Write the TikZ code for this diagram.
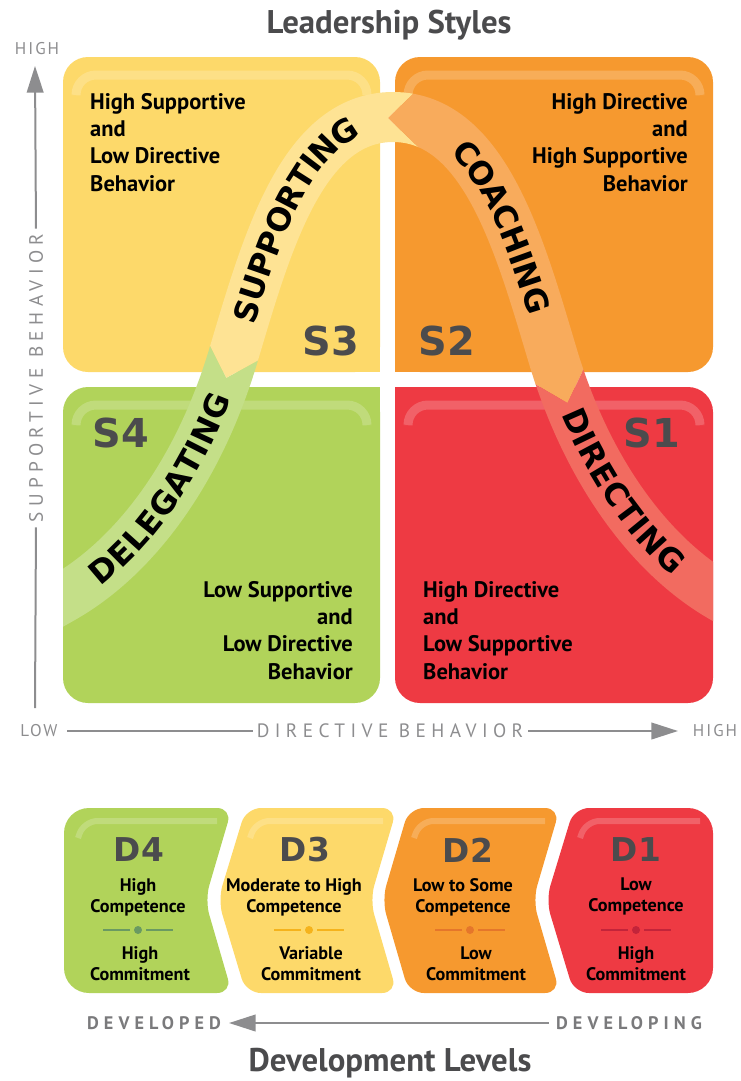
\documentclass[tikz,border=0pt]{standalone}
\usepackage{fontspec}
\setmainfont{PT Sans}
\newfontfamily\heavyfont{DejaVu Sans}
\newfontfamily\spacedfont[LetterSpace=28]{PT Sans}
\newfontfamily\endfont[LetterSpace=12]{PT Sans}
\usetikzlibrary{arrows.meta,decorations.text}

\definecolor{qyellow}{HTML}{FDD96A}
\definecolor{qorange}{HTML}{F6992F}
\definecolor{qgreen}{HTML}{B1D35A}
\definecolor{qred}{HTML}{EE3A43}
\definecolor{byellow}{HTML}{FEE394}
\definecolor{borange}{HTML}{F8AB5C}
\definecolor{bgreen}{HTML}{C4DF88}
\definecolor{bred}{HTML}{F26B60}
\definecolor{dotgreen}{HTML}{6A9A62}
\definecolor{dotyellow}{HTML}{F5B31C}
\definecolor{dotorange}{HTML}{E5762B}
\definecolor{dotred}{HTML}{C3243A}
\definecolor{axisgray}{HTML}{8D8D8F}
\definecolor{devgray}{HTML}{7A7A7C}
\definecolor{inkgray}{HTML}{4B4B4D}

% centre line of the style curve
\newcommand\bandpath{(19.5,622.7) -- (63,598) .. controls (130,560) and (195,480) .. (232,360)
  .. controls (265,250) and (300,117) .. (393,117)
  .. controls (486,117) and (521,250) .. (554,360)
  .. controls (591,480) and (656,560) .. (723,598) -- (766.5,622.7)}

\tikzset{
  quad/.style={rounded corners=0.75cm},
  gloss/.style={draw=white, draw opacity=.2, line width=0.27cm, rounded corners=0.6cm},
  heading/.style={font=\bfseries\fontsize{28}{28}\selectfont, text=inkgray, inner sep=0pt},
  stylelbl/.style={font=\heavyfont\bfseries\fontsize{34}{34}\selectfont, text=inkgray, inner sep=0pt},
  levellbl/.style={font=\heavyfont\bfseries\fontsize{28}{28}\selectfont, text=inkgray, inner sep=0pt},
  behav/.style={font=\bfseries\fontsize{19.2}{23.3}\selectfont, inner sep=0pt},
  levtxt/.style={font=\bfseries\fontsize{15.5}{17.9}\selectfont, align=center, inner sep=0pt},
  axistxt/.style={font=\spacedfont\fontsize{16.5}{16.5}\selectfont, text=axisgray, inner sep=0pt},
  endtxt/.style={font=\endfont\fontsize{14.5}{14.5}\selectfont, text=axisgray, inner sep=0pt},
  devtxt/.style={font=\spacedfont\bfseries\fontsize{15.5}{15.5}\selectfont, text=devgray, inner sep=0pt},
  axisline/.style={draw=axisgray, line width=0.06cm},
  axisarrow/.style={axisline, -{Triangle[length=0.8cm, width=0.5cm]}},
  band/.style={line width=1.5cm},
  bandtext/.style={decorate, decoration={text along path, text align=center, raise=-9.9pt,
    text={|\heavyfont\bfseries\fontsize{27}{27}\selectfont|#1}}},
}

\begin{document}
\begin{tikzpicture}[x=0.03cm, y=-0.03cm]
\useasboundingbox (0,0) rectangle (741,1081);

% the four quadrants, square at the centre
\fill[qyellow, quad] (63,57) rectangle (380,372);
\fill[qyellow] (340,332) rectangle (380,372);
\fill[qorange, quad] (395,57) rectangle (713,372);
\fill[qorange] (395,332) rectangle (435,372);
\fill[qgreen, quad] (63,387) rectangle (380,703);
\fill[qgreen] (340,387) rectangle (380,427);
\fill[qred, quad] (395,387) rectangle (713,703);
\fill[qred] (395,387) rectangle (435,427);
\foreach \xa/\xb/\ya in {63/380/57, 395/713/57, 63/380/387, 395/713/387}
  \draw[gloss] (\xa+13,\ya+38) -- (\xa+13,\ya+18) -- (\xb-13,\ya+18) -- (\xb-13,\ya+38);

% curve, cut into four arrows
\begin{scope}
\clip (63,0) rectangle (713,741);
\begin{scope}
\clip (0,313.4) -- (193.9,313.4) -- (226.3,377.8) -- (289.5,343) -- (400,343) -- (400,741) -- (0,741) -- cycle;
\draw[band, bgreen] \bandpath;
\end{scope}
\begin{scope}
\clip (0,0) -- (442,0) -- (442,66) -- (388,118) -- (442,170) -- (289.5,343) -- (226.3,377.8) -- (193.9,313.4) -- (0,313.4) -- cycle;
\draw[band, byellow] \bandpath;
\end{scope}
\begin{scope}
\clip (442,0) -- (741,0) -- (741,336.2) -- (599.3,336.2) -- (567.5,403) -- (503.7,365.8) -- (442,170) -- (388,118) -- (442,66) -- cycle;
\draw[band, borange] \bandpath;
\end{scope}
\begin{scope}
\clip (741,336.2) -- (599.3,336.2) -- (567.5,403) -- (503.7,365.8) -- (400,365.8) -- (400,741) -- (741,741) -- cycle;
\draw[band, bred] \bandpath;
\end{scope}
\end{scope}
\path[bandtext=DELEGATING] (63,598) .. controls (130,560) and (195,480) .. (232,360);
\path[bandtext=SUPPORTING] (232,360) .. controls (265,250) and (300,117) .. (393,117);
\path[bandtext=COACHING, decoration={text align={left, left indent=2.2cm}}]
  (393,117) .. controls (486,117) and (521,250) .. (554,360);
\path[bandtext=DIRECTING] (554,360) .. controls (591,480) and (656,560) .. (723,598);

% style labels
\node[stylelbl] (s3) at (331,341) {S3};
\node[stylelbl] (s2) at (447,341) {S2};
\node[stylelbl] (s4) at (121,433) {S4};
\node[stylelbl] (s1) at (652,433) {S1};
\node[behav, anchor=north west, align=left] (s3txt) at (90,93) {High Supportive\\and\\Low Directive\\Behavior};
\node[behav, anchor=north east, align=right] (s2txt) at (688,93) {High Directive\\and\\High Supportive\\Behavior};
\node[behav, anchor=north east, align=right] (s4txt) at (353,581) {Low Supportive\\and\\Low Directive\\Behavior};
\node[behav, anchor=north west, align=left] (s1txt) at (423,581) {High Directive\\and\\Low Supportive\\Behavior};

% axes
\node[heading, anchor=base] (title) at (389,33.3) {Leadership Styles};
\node[endtxt] (yhigh) at (37,49) {HIGH};
\node[axistxt, rotate=90] (ylbl) at (36,378) {SUPPORTIVE BEHAVIOR};
\coordinate (ytop) at (35,66);
\coordinate (ybot) at (35,708);
\draw[axisarrow, shorten <=4pt] (ylbl.east) -- (ytop);
\draw[axisline, shorten <=4pt] (ylbl.west) -- (ybot);
\node[endtxt] (xlow) at (39,731) {LOW};
\node[axistxt] (xlbl) at (390,731) {DIRECTIVE BEHAVIOR};
\node[endtxt] (xhigh) at (715,731) {HIGH};
\coordinate (xtip) at (678,731);
\draw[axisline, shorten <=8pt, shorten >=3pt] (xlow.east) -- (xlbl.west);
\draw[axisarrow, shorten <=4pt] (xlbl.east) -- (xtip);

% development levels
\begin{scope}
\clip[rounded corners=0.75cm] (64,808) rectangle (713,993);
\fill[qgreen, rounded corners=0.45cm] (30,808) -- (232,808) -- (205,900) -- (232,993) -- (30,993) -- cycle;
\fill[qyellow, rounded corners=0.45cm] (246,808) -- (397,808) -- (370,900) -- (397,993) -- (246,993) -- (218,900) -- cycle;
\fill[qorange, rounded corners=0.45cm] (409,808) -- (560,808) -- (533,900) -- (560,993) -- (409,993) -- (382,900) -- cycle;
\fill[qred, rounded corners=0.45cm] (574,808) -- (750,808) -- (750,993) -- (574,993) -- (546,900) -- cycle;
\end{scope}
\foreach \xa/\xb in {78/217, 250/383, 414/545, 580/700}
  \draw[gloss, line width=0.18cm, rounded corners=0.4cm] (\xa,838) -- (\xa+6,821) -- (\xb,821);

\foreach \name/\lbl/\col/\lx/\ux/\sx/\wx/\up/\low in {
  d4/D4/dotgreen/139/138/138/140/{High\\Competence}/{High\\Commitment},
  d3/D3/dotyellow/305/294/309/311/{Moderate to High\\Competence}/{Variable\\Commitment},
  d2/D2/dotorange/468/463/470/476/{Low to Some\\Competence}/{Low\\Commitment},
  d1/D1/dotred/636/636/636/636/{Low\\Competence}/{High\\Commitment}}
{
  \node[levellbl] (\name) at (\lx,850) {\lbl};
  \node[levtxt, anchor=north] (\name-comp) at (\ux,878) {\up};
  \node[levtxt, anchor=north] (\name-comm) at (\wx,946.7) {\low};
  \draw[\col, line width=0.07cm] (\sx-35,930) -- (\sx-8,930) (\sx+8,930) -- (\sx+35,930);
  \fill[\col] (\sx,930) circle (4);
}

\node[devtxt] (devd) at (154,1023) {DEVELOPED};
\node[devtxt] (deving) at (629,1023) {DEVELOPING};
\coordinate (dtip) at (229,1023);
\draw[axisarrow, shorten <=6pt] (deving.west) -- (dtip);
\node[heading, anchor=base] (title2) at (390,1071.5) {Development Levels};
\end{tikzpicture}
\end{document}
